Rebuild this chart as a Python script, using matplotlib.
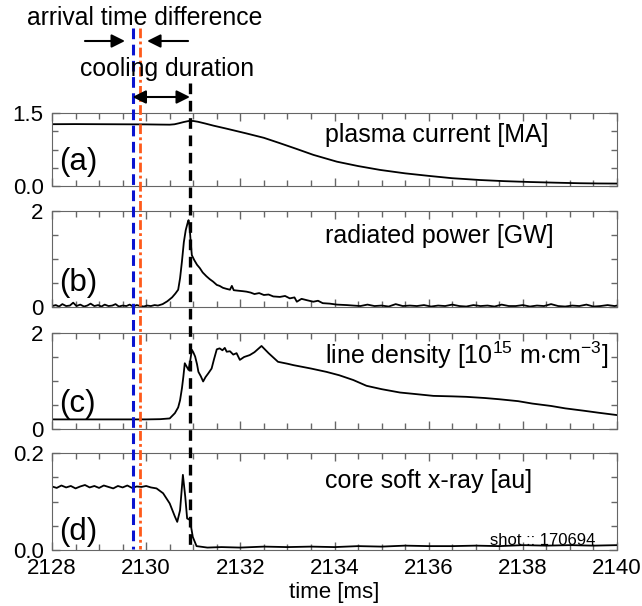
import matplotlib.pyplot as plt
from matplotlib.ticker import FixedLocator, MultipleLocator

plt.rcParams['font.family'] = ['Liberation Sans', 'DejaVu Sans']
plt.rcParams['mathtext.fontset'] = 'custom'
plt.rcParams['mathtext.rm'] = 'Liberation Sans'
plt.rcParams['mathtext.default'] = 'regular'

# === data ===
t_blue = 2129.71     # arrival (blue dashed)
t_orange = 2129.87   # arrival (orange dash-dot)
t_black = 2130.93    # end of cooling (black dashed)

ip_t = [2128.0, 2128.5, 2129.0, 2129.5, 2130.0, 2130.3, 2130.5, 2130.6, 2130.7, 2130.8,
        2130.9, 2131.0, 2131.1, 2131.25, 2131.43, 2131.7, 2132.13, 2132.5, 2132.84, 2133.2,
        2133.55, 2134.05, 2134.5, 2134.97, 2135.5, 2136.03, 2136.5, 2137.09, 2137.6, 2138.15,
        2138.7, 2139.2, 2139.6, 2140.0]
ip_v = [1.27, 1.272, 1.27, 1.268, 1.266, 1.262, 1.26, 1.268, 1.29, 1.315,
        1.335, 1.336, 1.32, 1.285, 1.24, 1.18, 1.08, 0.99, 0.88, 0.76,
        0.64, 0.50, 0.41, 0.33, 0.26, 0.205, 0.16, 0.123, 0.10, 0.082,
        0.068, 0.057, 0.052, 0.05]

prad_t = [2128.0, 2128.08, 2128.15, 2128.22, 2128.3, 2128.38, 2128.45, 2128.52, 2128.6, 2128.68,
          2128.75, 2128.82, 2128.9, 2128.98, 2129.05, 2129.12, 2129.2, 2129.28, 2129.35, 2129.42,
          2129.5, 2129.58, 2129.65, 2129.72, 2129.8, 2129.88, 2129.95, 2130.02, 2130.1, 2130.18,
          2130.25, 2130.35, 2130.45, 2130.55, 2130.62, 2130.68, 2130.72, 2130.76, 2130.8, 2130.84,
          2130.88, 2130.9, 2130.92, 2130.95, 2130.97, 2131.02, 2131.08, 2131.14, 2131.2, 2131.28,
          2131.35, 2131.42, 2131.5, 2131.56, 2131.63, 2131.7, 2131.78, 2131.82, 2131.86, 2131.95,
          2132.05, 2132.13, 2132.22, 2132.3, 2132.4, 2132.5, 2132.6, 2132.7, 2132.84, 2132.95,
          2133.05, 2133.15, 2133.2, 2133.3, 2133.42, 2133.55, 2133.65, 2133.75, 2133.9, 2134.05,
          2134.26, 2134.4, 2134.55, 2134.7, 2134.85, 2135.0, 2135.15, 2135.3, 2135.45, 2135.6,
          2135.75, 2135.9, 2136.05, 2136.2, 2136.35, 2136.5, 2136.65, 2136.8, 2136.95, 2137.1,
          2137.25, 2137.4, 2137.55, 2137.7, 2137.85, 2138.0, 2138.15, 2138.3, 2138.45, 2138.6,
          2138.75, 2138.9, 2139.05, 2139.2, 2139.35, 2139.5, 2139.65, 2139.8, 2139.95, 2140.0]
prad_v = [0.02, 0.04, 0.01, 0.06, 0.02, 0.03, 0.09, 0.02, 0.05, 0.01,
          0.03, 0.07, 0.02, 0.04, 0.01, 0.05, 0.02, 0.03, 0.06, 0.01,
          0.03, 0.02, 0.05, 0.01, 0.04, 0.02, 0.01, 0.03, 0.02, 0.04,
          0.03, 0.06, 0.12, 0.2, 0.28, 0.36, 0.6, 0.95, 1.35, 1.6,
          1.75, 1.81, 1.7, 1.3, 1.08, 0.98, 0.88, 0.81, 0.72, 0.64,
          0.58, 0.53, 0.46, 0.44, 0.40, 0.38, 0.36, 0.44, 0.35, 0.34,
          0.33, 0.32, 0.30, 0.27, 0.29, 0.25, 0.26, 0.22, 0.21, 0.23,
          0.18, 0.20, 0.11, 0.17, 0.14, 0.11, 0.13, 0.08, 0.07, 0.05,
          0.04, 0.03, 0.02, 0.05, 0.02, 0.03, 0.01, 0.06, 0.02, 0.03,
          0.02, 0.04, 0.01, 0.03, 0.02, 0.05, 0.02, 0.01, 0.04, 0.02,
          0.03, 0.01, 0.05, 0.02, 0.02, 0.04, 0.01, 0.03, 0.02, 0.06,
          0.02, 0.01, 0.03, 0.02, 0.05, 0.01, 0.02, 0.04, 0.02, 0.03]

ne_t = [2128.0, 2128.5, 2129.0, 2129.5, 2130.0, 2130.3, 2130.5, 2130.61, 2130.68, 2130.72,
        2130.76, 2130.79, 2130.82, 2130.86, 2130.9, 2130.94, 2130.97, 2131.0, 2131.04, 2131.08,
        2131.11, 2131.16, 2131.21, 2131.26, 2131.32, 2131.39, 2131.44, 2131.5, 2131.56, 2131.62,
        2131.67, 2131.71, 2131.78, 2131.85, 2131.92, 2131.99, 2132.08, 2132.2, 2132.3, 2132.45,
        2132.6, 2132.8, 2133.0, 2133.13, 2133.5, 2133.83, 2134.1, 2134.4, 2134.68, 2135.0,
        2135.39, 2135.7, 2136.1, 2136.5, 2136.8, 2137.2, 2137.5, 2137.9, 2138.2, 2138.6,
        2138.9, 2139.3, 2139.6, 2140.0]
ne_v = [0.20, 0.20, 0.20, 0.20, 0.20, 0.205, 0.22, 0.33, 0.45, 0.60,
        0.85, 1.09, 1.37, 1.30, 1.23, 1.45, 1.65, 1.60, 1.51, 1.35,
        1.19, 1.10, 0.99, 1.08, 1.16, 1.26, 1.45, 1.66, 1.68, 1.64,
        1.69, 1.61, 1.62, 1.55, 1.58, 1.44, 1.50, 1.54, 1.60, 1.73,
        1.58, 1.40, 1.36, 1.33, 1.26, 1.19, 1.12, 1.02, 0.90, 0.83,
        0.76, 0.73, 0.69, 0.68, 0.67, 0.645, 0.62, 0.58, 0.53, 0.48,
        0.43, 0.38, 0.34, 0.29]

sxr_t = [2128.0, 2128.1, 2128.2, 2128.3, 2128.4, 2128.5, 2128.6, 2128.7, 2128.8, 2128.9,
         2129.0, 2129.1, 2129.2, 2129.3, 2129.4, 2129.5, 2129.6, 2129.7, 2129.8, 2129.9,
         2130.0, 2130.1, 2130.22, 2130.36, 2130.5, 2130.61, 2130.66, 2130.72, 2130.78, 2130.83,
         2130.87, 2130.93, 2130.99, 2131.07, 2131.3, 2131.6, 2132.0, 2132.5, 2133.0, 2133.5,
         2134.0, 2134.5, 2135.0, 2135.5, 2136.0, 2136.5, 2137.0, 2137.5, 2138.0, 2138.5,
         2139.0, 2139.5, 2140.0]
sxr_v = [0.131, 0.128, 0.133, 0.129, 0.132, 0.127, 0.131, 0.134, 0.129, 0.132,
         0.128, 0.133, 0.130, 0.127, 0.132, 0.129, 0.133, 0.128, 0.131, 0.130,
         0.132, 0.129, 0.127, 0.117, 0.096, 0.069, 0.058, 0.082, 0.155, 0.110,
         0.065, 0.062, 0.027, 0.008, 0.005, 0.006, 0.005, 0.007, 0.006, 0.007,
         0.006, 0.008, 0.007, 0.009, 0.008, 0.008, 0.009, 0.008, 0.010, 0.009,
         0.010, 0.009, 0.010]

panels = [
    (ip_t, ip_v, (0, 1.5), ['0.0', '1.5'], 'plasma current [MA]', '(a)'),
    (prad_t, prad_v, (0, 2), ['0', '2'], 'radiated power [GW]', '(b)'),
    (ne_t, ne_v, (0, 2), ['0', '2'], r'line density [10$^{15}$ m$\cdot$cm$^{-3}$]', '(c)'),
    (sxr_t, sxr_v, (0, 0.2), ['0.0', '0.2'], 'core soft x-ray [au]', '(d)'),
]

W, H = 642, 606
left, right = 52, 617
rows = [(113, 186), (211, 307), (333, 429), (453, 550)]
title_base = [0.60, 0.665, 0.675, 0.64]
label_y = [0.33, 0.25, 0.26, 0.19]
spine_col = '#666666'

fig = plt.figure(figsize=(W / 100, H / 100), dpi=100)
axes = []
for i, (t, v, ylim, ylab, title, lab) in enumerate(panels):
    top, bot = rows[i]
    ax = fig.add_axes([left / W, 1 - bot / H, (right - left) / W, (bot - top) / H])
    ax.plot(t, v, color='black', lw=1.3)
    ax.set_xlim(2128, 2140)
    ax.set_ylim(*ylim)
    ax.xaxis.set_major_locator(MultipleLocator(2))
    ax.xaxis.set_minor_locator(MultipleLocator(0.5))
    ax.yaxis.set_major_locator(FixedLocator(list(ylim)))
    ax.yaxis.set_minor_locator(MultipleLocator((ylim[1] - ylim[0]) / 4))
    ax.set_yticklabels(ylab)
    ax.tick_params(which='both', direction='in', top=True, right=True, color=spine_col, width=1)
    ax.tick_params(which='major', length=6, labelsize=16, pad=6)
    ax.tick_params(which='minor', length=4)
    ax.tick_params(axis='x', labelsize=16)
    for s in ax.spines.values():
        s.set_color(spine_col)
    if i < 3:
        ax.tick_params(axis='x', labelbottom=False)
    ax.text(2133.8, ylim[0] + title_base[i] * (ylim[1] - ylim[0]), title,
            fontsize=18, va='baseline', ha='left')
    ax.text(0.013, label_y[i], lab, transform=ax.transAxes, fontsize=22.5,
            va='center', ha='left')
    axes.append(ax)

axes[3].set_xlabel('time [ms]', fontsize=16, labelpad=2)
axes[3].text(0.961, 0.05, 'shot :: 170694', transform=axes[3].transAxes,
             fontsize=12, ha='right', va='baseline')

# overlay for the marker lines and annotations (y in pixel rows from top)
ov = fig.add_axes([left / W, 0, (right - left) / W, 1], facecolor='none')
ov.set_xlim(2128, 2140)
ov.set_ylim(H, 0)
ov.axis('off')
ov.plot([t_blue, t_blue], [28, 549], color='#0a14d0', lw=2.2, ls=(0, (3.5, 1.8)))
ov.plot([t_orange, t_orange], [28, 549], color='#ff5a1a', lw=2.0, ls=(0, (3.5, 1.2, 1, 1.2)))
ov.plot([t_black, t_black], [83, 549], color='black', lw=2.4, ls=(0, (3.2, 2.0)))

ov.text(2129.96, 18, 'arrival time difference', fontsize=17.8, ha='center', va='center')
ov.text(2130.45, 69, 'cooling duration', fontsize=17.8, ha='center', va='center')
arr = dict(arrowstyle='-|>', lw=1.5, color='black', mutation_scale=20, shrinkA=0, shrinkB=0)
ov.annotate('', xy=(2129.55, 41), xytext=(2128.70, 41), arrowprops=arr)
ov.annotate('', xy=(2130.02, 41), xytext=(2130.89, 41), arrowprops=arr)
ov.annotate('', xy=(t_black, 97), xytext=(t_blue, 97),
            arrowprops=dict(arrowstyle='<|-|>', lw=1.5, color='black', mutation_scale=20,
                            shrinkA=0, shrinkB=0))

fig.savefig('out.png', dpi=100)
